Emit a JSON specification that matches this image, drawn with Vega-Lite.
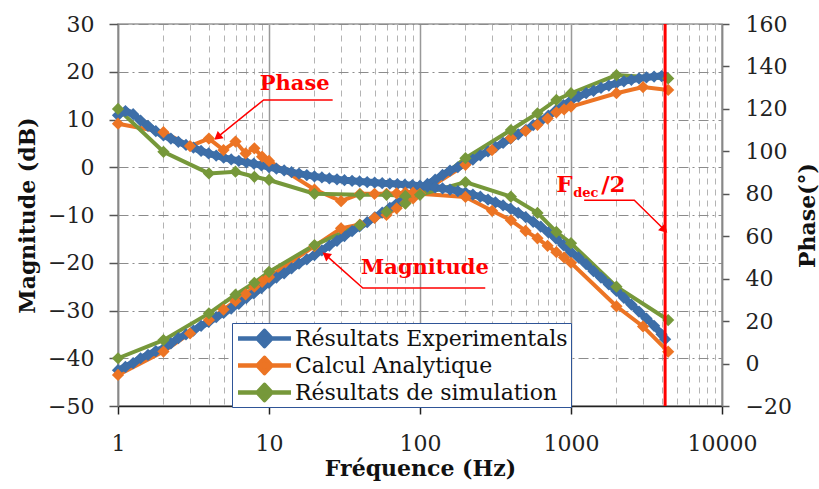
{
  "$schema": "https://vega.github.io/schema/vega-lite/v6.json",
  "width": 604,
  "height": 382,
  "autosize": {"type": "none"},
  "padding": {"left": 118, "top": 24, "right": 97, "bottom": 83},
  "background": "white",
  "config": {
    "view": {"stroke": "#999999", "strokeWidth": 1.5},
    "font": "DejaVu Serif",
    "legend": {
      "orient": "none", "legendX": 114, "legendY": 299, "title": null, "direction": "vertical",
      "symbolType": "M-2.65,0H2.65M-0.7,0L0,-0.75L0.7,0L0,0.75Z",
      "symbolSize": 400, "symbolOffset": 17, "symbolStrokeWidth": 4.5,
      "labelFont": "DejaVu Serif", "labelFontSize": 22, "labelColor": "#111111", "labelLimit": 400, "labelOffset": 18,
      "strokeColor": "#2f5597", "fillColor": "white", "padding": 3, "rowPadding": 3, "offset": 0
    }
  },
  "datasets": {
    "series": [
      {"s":"E","f":1,"m":-42.5,"p":117},
      {"s":"E","f":1.12,"m":-41.8,"p":119},
      {"s":"E","f":1.26,"m":-41.0,"p":117.5},
      {"s":"E","f":1.41,"m":-40.0,"p":114.5},
      {"s":"E","f":1.58,"m":-39.3,"p":112},
      {"s":"E","f":1.78,"m":-38.5,"p":109.5},
      {"s":"E","f":2,"m":-38.0,"p":107.5},
      {"s":"E","f":2.24,"m":-36.9,"p":106},
      {"s":"E","f":2.51,"m":-35.8,"p":104.5},
      {"s":"E","f":2.82,"m":-35.0,"p":103},
      {"s":"E","f":3.16,"m":-34.2,"p":101.8},
      {"s":"E","f":3.55,"m":-33.2,"p":100.2},
      {"s":"E","f":3.98,"m":-32.4,"p":99},
      {"s":"E","f":4.47,"m":-31.4,"p":98},
      {"s":"E","f":5.01,"m":-30.5,"p":97},
      {"s":"E","f":5.62,"m":-29.6,"p":96.2},
      {"s":"E","f":6.31,"m":-28.6,"p":95.5},
      {"s":"E","f":7.08,"m":-27.4,"p":94.8},
      {"s":"E","f":7.94,"m":-26.4,"p":94.2},
      {"s":"E","f":8.91,"m":-25.3,"p":93.4},
      {"s":"E","f":10,"m":-24.2,"p":92.6},
      {"s":"E","f":11.2,"m":-23.1,"p":91.8},
      {"s":"E","f":12.6,"m":-22.2,"p":91},
      {"s":"E","f":14.1,"m":-21.2,"p":90.2},
      {"s":"E","f":15.8,"m":-20.2,"p":89.5},
      {"s":"E","f":17.8,"m":-19.3,"p":88.8},
      {"s":"E","f":20,"m":-18.4,"p":88.2},
      {"s":"E","f":22.4,"m":-17.4,"p":87.7},
      {"s":"E","f":25.1,"m":-16.4,"p":87.2},
      {"s":"E","f":28.2,"m":-15.4,"p":86.8},
      {"s":"E","f":31.6,"m":-14.4,"p":86.4},
      {"s":"E","f":35.5,"m":-13.4,"p":86.1},
      {"s":"E","f":39.8,"m":-12.4,"p":85.8},
      {"s":"E","f":44.7,"m":-11.5,"p":85.5},
      {"s":"E","f":50.1,"m":-10.5,"p":85.3},
      {"s":"E","f":56.2,"m":-9.5,"p":85},
      {"s":"E","f":63.1,"m":-8.5,"p":84.8},
      {"s":"E","f":70.8,"m":-7.5,"p":84.6},
      {"s":"E","f":79.4,"m":-6.5,"p":84.3},
      {"s":"E","f":89.1,"m":-5.5,"p":84.1},
      {"s":"E","f":100,"m":-4.5,"p":83.8},
      {"s":"E","f":112,"m":-3.5,"p":83.4},
      {"s":"E","f":126,"m":-2.6,"p":83},
      {"s":"E","f":141,"m":-1.6,"p":82.5},
      {"s":"E","f":158,"m":-0.7,"p":82},
      {"s":"E","f":178,"m":0.0,"p":81.3},
      {"s":"E","f":200,"m":0.8,"p":80.5},
      {"s":"E","f":224,"m":1.6,"p":79.6},
      {"s":"E","f":251,"m":2.5,"p":78.6},
      {"s":"E","f":282,"m":3.3,"p":77.3},
      {"s":"E","f":316,"m":4.2,"p":76},
      {"s":"E","f":355,"m":5.1,"p":74.5},
      {"s":"E","f":398,"m":6.0,"p":73},
      {"s":"E","f":447,"m":6.9,"p":71},
      {"s":"E","f":501,"m":7.8,"p":69},
      {"s":"E","f":562,"m":8.8,"p":66.8},
      {"s":"E","f":631,"m":9.7,"p":64.5},
      {"s":"E","f":708,"m":10.8,"p":61.8},
      {"s":"E","f":794,"m":11.9,"p":59},
      {"s":"E","f":891,"m":13.0,"p":55.8},
      {"s":"E","f":1000,"m":14.0,"p":52.5},
      {"s":"E","f":1120,"m":14.8,"p":50},
      {"s":"E","f":1260,"m":15.5,"p":46.8},
      {"s":"E","f":1410,"m":16.0,"p":43.5},
      {"s":"E","f":1580,"m":16.6,"p":40.5},
      {"s":"E","f":1780,"m":17.1,"p":37.3},
      {"s":"E","f":2000,"m":17.6,"p":34.2},
      {"s":"E","f":2240,"m":18.0,"p":31},
      {"s":"E","f":2510,"m":18.3,"p":27.8},
      {"s":"E","f":2820,"m":18.6,"p":24.5},
      {"s":"E","f":3160,"m":18.8,"p":21.2},
      {"s":"E","f":3550,"m":19.0,"p":17.8},
      {"s":"E","f":3980,"m":19.1,"p":13.8},
      {"s":"E","f":4200,"m":19.0,"p":11.5},
      {"s":"A","f":1,"m":-43.5,"p":113},
      {"s":"A","f":2,"m":-38.6,"p":109},
      {"s":"A","f":3,"m":-34.8,"p":102.5},
      {"s":"A","f":4,"m":-32,"p":106},
      {"s":"A","f":5,"m":-29.8,"p":100.6},
      {"s":"A","f":6,"m":-28,"p":104.6},
      {"s":"A","f":7,"m":-26.6,"p":99},
      {"s":"A","f":8,"m":-25,"p":101.4},
      {"s":"A","f":9,"m":-24,"p":97.5},
      {"s":"A","f":10,"m":-23,"p":95.5},
      {"s":"A","f":20,"m":-16.5,"p":82},
      {"s":"A","f":30,"m":-12.8,"p":76.5},
      {"s":"A","f":40,"m":-12,"p":80},
      {"s":"A","f":50,"m":-10.6,"p":80},
      {"s":"A","f":60,"m":-10,"p":80},
      {"s":"A","f":70,"m":-8.6,"p":80.2},
      {"s":"A","f":80,"m":-7.5,"p":80.5},
      {"s":"A","f":90,"m":-6.5,"p":80.5},
      {"s":"A","f":100,"m":-5.5,"p":80},
      {"s":"A","f":200,"m":0.5,"p":78.5},
      {"s":"A","f":300,"m":3.6,"p":72},
      {"s":"A","f":400,"m":6.1,"p":67.5},
      {"s":"A","f":500,"m":7.6,"p":62.5},
      {"s":"A","f":600,"m":8.9,"p":59},
      {"s":"A","f":700,"m":10.2,"p":55.5},
      {"s":"A","f":800,"m":11.5,"p":52.5},
      {"s":"A","f":900,"m":12.1,"p":50},
      {"s":"A","f":1000,"m":12.7,"p":47.5},
      {"s":"A","f":2000,"m":15.5,"p":27},
      {"s":"A","f":3000,"m":16.8,"p":17.5},
      {"s":"A","f":4400,"m":16.2,"p":5.6},
      {"s":"S","f":1,"m":-40,"p":120},
      {"s":"S","f":2,"m":-36.2,"p":99.8},
      {"s":"S","f":4,"m":-30.6,"p":89.6},
      {"s":"S","f":6,"m":-26.7,"p":90.4},
      {"s":"S","f":8,"m":-24.2,"p":88},
      {"s":"S","f":10,"m":-21.9,"p":86.5},
      {"s":"S","f":20,"m":-16.3,"p":80},
      {"s":"S","f":40,"m":-12.1,"p":79.5},
      {"s":"S","f":60,"m":-9.3,"p":79.5},
      {"s":"S","f":80,"m":-7.6,"p":79},
      {"s":"S","f":100,"m":-5.5,"p":79.5},
      {"s":"S","f":200,"m":1.9,"p":85.5},
      {"s":"S","f":400,"m":7.8,"p":78.6},
      {"s":"S","f":600,"m":11.3,"p":71},
      {"s":"S","f":800,"m":14.1,"p":62},
      {"s":"S","f":1000,"m":15.5,"p":56.7},
      {"s":"S","f":2000,"m":19.3,"p":36.2},
      {"s":"S","f":4400,"m":18.6,"p":20.5}
    ],
    "ann": [
      {"g":"ph","o":1,"f":26.4,"m":14.1},
      {"g":"ph","o":2,"f":9.21,"m":14.1},
      {"g":"ph","o":3,"f":4.56,"m":6.3},
      {"g":"mg","o":1,"f":270.6,"m":-25.3},
      {"g":"mg","o":2,"f":41.8,"m":-25.3},
      {"g":"mg","o":3,"f":23.8,"m":-18.4},
      {"g":"fd","o":1,"f":1222,"m":-6.9},
      {"g":"fd","o":2,"f":2625,"m":-6.9},
      {"g":"fd","o":3,"f":4150,"m":-13.1}
    ]
  },
  "encoding": {
    "x": {
      "field": "f",
      "type": "quantitative",
      "scale": {"type": "log", "domain": [1, 10000], "nice": false},
      "axis": {
        "values": [1,2,3,4,5,6,7,8,9,10,20,30,40,50,60,70,80,90,100,200,300,400,500,600,700,800,900,1000,2000,3000,4000,5000,6000,7000,8000,9000,10000],
        "format": "d",
        "labelExpr": "(datum.value==1||datum.value==10||datum.value==100||datum.value==1000||datum.value==10000) ? datum.label : ''",
        "labelOverlap": false,
        "labelFlush": false,
        "grid": true,
        "gridColor": {"condition": {"test": "datum.value==1||datum.value==10||datum.value==100||datum.value==1000||datum.value==10000", "value": "#999999"}, "value": "#b3b3b3"},
        "gridDash": {"condition": {"test": "datum.value==1||datum.value==10||datum.value==100||datum.value==1000||datum.value==10000", "value": []}, "value": [6, 5]},
        "gridWidth": {"condition": {"test": "datum.value==1||datum.value==10||datum.value==100||datum.value==1000||datum.value==10000", "value": 1.5}, "value": 1},
        "tickOpacity": {"condition": {"test": "datum.value==1||datum.value==10||datum.value==100||datum.value==1000||datum.value==10000", "value": 1}, "value": 0},
        "tickSize": 8,
        "tickWidth": 1.5,
        "tickColor": "#222222",
        "domainColor": "#222222",
        "domainWidth": 1.5,
        "labelFont": "DejaVu Serif",
        "labelFontSize": 22,
        "labelColor": "#222222",
        "labelPadding": 19,
        "title": "Fréquence (Hz)",
        "titleFont": "DejaVu Serif",
        "titleFontSize": 22,
        "titleFontWeight": "bold",
        "titleColor": "#111111",
        "titlePadding": 4
      }
    }
  },
  "layer": [
    {
      "encoding": {
        "y": {
          "field": "m",
          "type": "quantitative",
          "scale": {"domain": [-50, 30], "nice": false},
          "axis": {
            "orient": "left",
            "values": [-50,-40,-30,-20,-10,0,10,20,30],
            "grid": true,
            "gridColor": "#8c8c8c",
            "gridDash": [10, 4, 2, 4],
            "gridWidth": 1.2,
            "domainColor": "#888888",
            "domainWidth": 1.5,
            "tickColor": "#555555",
            "tickSize": 9,
            "tickWidth": 1.5,
            "labelFont": "DejaVu Serif",
            "labelFontSize": 22,
            "labelColor": "#222222",
            "labelPadding": 15,
            "title": "Magnitude (dB)",
            "titleFont": "DejaVu Serif",
            "titleFontSize": 22,
            "titleFontWeight": "bold",
            "titleColor": "#111111",
            "titlePadding": 8
          }
        }
      },
      "layer": [
        {
          "data": {"name": "series"},
          "transform": [{"filter": "datum.s != 'E'"}],
          "mark": {"type": "line", "strokeWidth": 4},
          "encoding": {
            "color": {
              "field": "s",
              "type": "nominal",
              "scale": {"domain": ["E", "A", "S"], "range": ["#3d6ea8", "#ec7424", "#76983a"]},
              "legend": {
                "labelExpr": "datum.value == 'E' ? 'Résultats Experimentals' : (datum.value == 'A' ? 'Calcul Analytique' : 'Résultats de simulation')",
                "encode": {"symbols": {"update": {"fill": {"scale": "color", "field": "value"}, "stroke": {"scale": "color", "field": "value"}, "fillOpacity": {"value": 1}, "strokeWidth": {"value": 4.5}, "strokeJoin": {"value": "round"}}}}
              }
            }
          }
        },
        {
          "data": {"name": "series"},
          "transform": [{"filter": "datum.s == 'E'"}],
          "mark": {"type": "line", "strokeWidth": 7},
          "encoding": {
            "color": {
              "field": "s",
              "type": "nominal",
              "scale": {"domain": ["E", "A", "S"], "range": ["#3d6ea8", "#ec7424", "#76983a"]},
              "legend": {
                "labelExpr": "datum.value == 'E' ? 'Résultats Experimentals' : (datum.value == 'A' ? 'Calcul Analytique' : 'Résultats de simulation')",
                "encode": {"symbols": {"update": {"fill": {"scale": "color", "field": "value"}, "stroke": {"scale": "color", "field": "value"}, "fillOpacity": {"value": 1}, "strokeWidth": {"value": 4.5}, "strokeJoin": {"value": "round"}}}}
              }
            }
          }
        },
        {
          "data": {"name": "series"},
          "mark": {"type": "point", "shape": "diamond", "filled": true, "size": 150, "opacity": 1},
          "encoding": {
            "color": {
              "field": "s",
              "type": "nominal",
              "scale": {"domain": ["E", "A", "S"], "range": ["#3d6ea8", "#ec7424", "#76983a"]},
              "legend": null
            }
          }
        },
        {
          "data": {"name": "ann"},
          "mark": {"type": "line", "color": "#ff0000", "strokeWidth": 1.5},
          "encoding": {"detail": {"field": "g"}, "order": {"field": "o", "type": "quantitative"}}
        },
        {
          "data": {"values": [{"f": 4.56, "m": 6.3}]},
          "mark": {"type": "point", "shape": "triangle-up", "filled": true, "color": "#ff0000", "size": 90, "opacity": 1, "angle": 231},
          "encoding": {}
        },
        {
          "data": {"values": [{"f": 23.8, "m": -18.4}]},
          "mark": {"type": "point", "shape": "triangle-up", "filled": true, "color": "#ff0000", "size": 90, "opacity": 1, "angle": 308},
          "encoding": {}
        },
        {
          "data": {"values": [{"f": 4150, "m": -13.1}]},
          "mark": {"type": "point", "shape": "triangle-up", "filled": true, "color": "#ff0000", "size": 90, "opacity": 1, "angle": 135},
          "encoding": {}
        },
        {
          "data": {"values": [{"t": "Phase", "f": 14.8, "m": 17.4}, {"t": "Magnitude", "f": 107.8, "m": -21.1}]},
          "mark": {"type": "text", "color": "#ff0000", "font": "DejaVu Serif", "fontWeight": "bold", "fontSize": 21, "align": "center", "baseline": "middle"},
          "encoding": {"text": {"field": "t"}}
        },
        {
          "data": {"values": [{"t": "F", "f": 798, "m": -5.1}, {"t": "/2", "f": 1585, "m": -5.1}]},
          "mark": {"type": "text", "color": "#ff0000", "font": "DejaVu Serif", "fontWeight": "bold", "fontSize": 23, "align": "left", "baseline": "alphabetic"},
          "encoding": {"text": {"field": "t"}}
        },
        {
          "data": {"values": [{"t": "dec", "f": 1035, "m": -6.2}]},
          "mark": {"type": "text", "color": "#ff0000", "font": "DejaVu Serif", "fontWeight": "bold", "fontSize": 13, "align": "left", "baseline": "alphabetic"},
          "encoding": {"text": {"field": "t"}}
        }
      ]
    },
    {
      "data": {"name": "series"},
      "encoding": {
        "y": {
          "field": "p",
          "type": "quantitative",
          "scale": {"domain": [-20, 160], "nice": false},
          "axis": {
            "orient": "right",
            "values": [-20,0,20,40,60,80,100,120,140,160],
            "grid": false,
            "domainColor": "#888888",
            "domainWidth": 1.5,
            "tickColor": "#555555",
            "tickSize": 7,
            "tickWidth": 1.5,
            "labelFont": "DejaVu Serif",
            "labelFontSize": 22,
            "labelColor": "#222222",
            "labelPadding": 16,
            "title": "Phase(°)",
            "titleFont": "DejaVu Serif",
            "titleFontSize": 22,
            "titleFontWeight": "bold",
            "titleColor": "#111111",
            "titleAngle": 270,
            "titleBaseline": "top",
            "titlePadding": 6
          }
        }
      },
      "layer": [
        {
          "transform": [{"filter": "datum.s != 'E'"}],
          "mark": {"type": "line", "strokeWidth": 4},
          "encoding": {
            "color": {
              "field": "s",
              "type": "nominal",
              "scale": {"domain": ["E", "A", "S"], "range": ["#3d6ea8", "#ec7424", "#76983a"]},
              "legend": {
                "labelExpr": "datum.value == 'E' ? 'Résultats Experimentals' : (datum.value == 'A' ? 'Calcul Analytique' : 'Résultats de simulation')",
                "encode": {"symbols": {"update": {"fill": {"scale": "color", "field": "value"}, "stroke": {"scale": "color", "field": "value"}, "fillOpacity": {"value": 1}, "strokeWidth": {"value": 4.5}, "strokeJoin": {"value": "round"}}}}
              }
            }
          }
        },
        {
          "transform": [{"filter": "datum.s == 'E'"}],
          "mark": {"type": "line", "strokeWidth": 7},
          "encoding": {
            "color": {
              "field": "s",
              "type": "nominal",
              "scale": {"domain": ["E", "A", "S"], "range": ["#3d6ea8", "#ec7424", "#76983a"]},
              "legend": {
                "labelExpr": "datum.value == 'E' ? 'Résultats Experimentals' : (datum.value == 'A' ? 'Calcul Analytique' : 'Résultats de simulation')",
                "encode": {"symbols": {"update": {"fill": {"scale": "color", "field": "value"}, "stroke": {"scale": "color", "field": "value"}, "fillOpacity": {"value": 1}, "strokeWidth": {"value": 4.5}, "strokeJoin": {"value": "round"}}}}
              }
            }
          }
        },
        {
          "mark": {"type": "point", "shape": "diamond", "filled": true, "size": 150, "opacity": 1},
          "encoding": {
            "color": {
              "field": "s",
              "type": "nominal",
              "scale": {"domain": ["E", "A", "S"], "range": ["#3d6ea8", "#ec7424", "#76983a"]},
              "legend": null
            }
          }
        }
      ]
    },
    {
      "data": {"values": [{"f": 4200}]},
      "mark": {"type": "rule", "color": "#ff0000", "strokeWidth": 3},
      "encoding": {}
    }
  ],
  "resolve": {"scale": {"y": "independent"}}
}
